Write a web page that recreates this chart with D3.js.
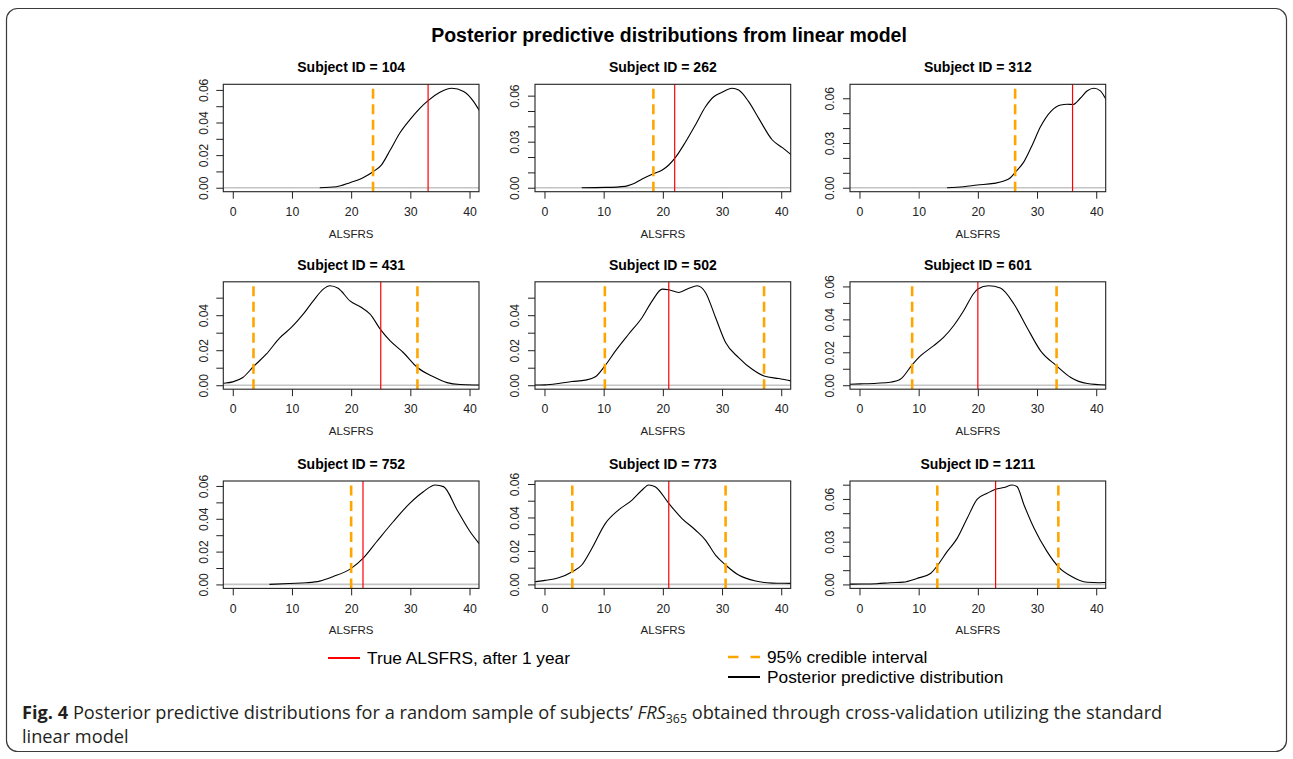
<!DOCTYPE html>
<html>
<head>
<meta charset="utf-8">
<script src="https://cdn.jsdelivr.net/npm/d3@7"></script>
<style>
  body { margin: 0; background: #fff; }
  svg { display: block; }
</style>
</head>
<body>
<svg id="fig" width="1293" height="759"></svg>
<script>
// ---- data -------------------------------------------------------------
// subjects in grid order (row by row)
const subjects = ["104", "262", "312", "431", "502", "601", "752", "773", "1211"];
// observed ALSFRS after one year (red line)
const trueALSFRS = [33, 22, 36, 25, 21, 20, 22, 21, 23];
// 95% credible interval bounds (orange dashed lines)
const ciLower = [23.7, 18.4, 26.3, 3.5, 10.2, 8.9, 20.0, 4.7, 13.15];
const ciUpper = [44.6, 44.0, 45.5, 31.2, 37.1, 33.3, 44.3, 30.6, 33.6];

// posterior predictive densities, [ALSFRS, density]
const density104 = [[14.7,0],[17.5,0.0006],[19.8,0.0031],[22.0,0.0061],[23.7,0.0098],[25.1,0.0139],[26.6,0.0231],[28.2,0.0334],[29.9,0.0416],[31.6,0.0487],[33.0,0.0534],[35.0,0.0586],[37.0,0.0610],[39.0,0.0590],[40.7,0.0528],[41.6,0.0477],[43.0,0.0400]];
const density262 = [[6.3,0],[10.3,0.0002],[13.65,0.0009],[14.8,0.0022],[16.5,0.0057],[18.4,0.0091],[19.9,0.0115],[21.0,0.0148],[22.1,0.0196],[23.8,0.0296],[25.5,0.0409],[27.2,0.0528],[28.6,0.0593],[30.0,0.0622],[31.7,0.0648],[32.8,0.0637],[34.5,0.0561],[36.2,0.0452],[38.5,0.0311],[40.2,0.0261],[41.6,0.0217],[43.0,0.0170]];
const density312 = [[14.8,0],[17.6,0.0007],[19.9,0.0018],[22.7,0.0029],[24.4,0.0045],[25.5,0.0067],[26.3,0.0103],[27.8,0.0175],[29.2,0.0287],[30.6,0.0410],[32.3,0.0511],[34.0,0.0555],[35.1,0.0560],[36.05,0.0558],[37.3,0.0600],[38.5,0.0650],[39.6,0.0667],[40.7,0.0650],[41.6,0.0596],[43.0,0.0500]];
const density431 = [[-2.5,0.0008],[-1.7,0.0011],[0,0.0019],[1.7,0.0044],[3.5,0.0107],[5.65,0.0177],[7.9,0.0269],[9.9,0.0330],[11.9,0.0406],[13.6,0.0482],[15.3,0.0549],[16.4,0.0568],[17.8,0.0554],[19.8,0.0482],[21.75,0.0444],[23.2,0.0406],[25.0,0.0316],[26.6,0.0253],[28.8,0.0187],[31.2,0.0101],[33.9,0.0048],[36.2,0.0015],[38.4,0.0004],[41.6,0.0001],[43.0,0]];
const density502 = [[-2.5,0],[-1.6,0.0001],[0.1,0.0002],[2.4,0.0010],[4.6,0.0021],[6.9,0.0029],[8.6,0.0048],[10.2,0.0110],[12.0,0.0196],[14.2,0.0291],[16.5,0.0387],[18.2,0.0482],[19.9,0.0549],[21.0,0.0545],[22.7,0.0530],[24.4,0.0554],[25.8,0.0568],[27.2,0.0530],[28.9,0.0387],[30.6,0.0244],[32.8,0.0158],[35.1,0.0091],[37.1,0.0053],[39.6,0.0038],[41.6,0.0025],[43.0,0.0017]];
const density601 = [[-2.5,0.0005],[-1.6,0.0006],[0.1,0.0008],[2.9,0.0012],[5.2,0.0018],[6.9,0.0036],[8.9,0.0124],[10.3,0.0178],[12.5,0.0239],[14.2,0.0290],[15.9,0.0361],[17.6,0.0452],[19.3,0.0557],[20.0,0.0584],[21.8,0.0604],[23.8,0.0590],[26.1,0.0493],[28.3,0.0351],[30.6,0.0209],[33.3,0.0118],[35.7,0.0047],[38.5,0.0010],[41.6,0.0001],[43.0,0]];
const density752 = [[6.2,0],[9.6,0.0006],[12.4,0.0010],[14.7,0.0020],[16.9,0.0047],[20.0,0.0098],[22.0,0.0159],[24.3,0.0260],[27.1,0.0382],[29.9,0.0494],[32.2,0.0565],[34.2,0.0606],[35.6,0.0596],[37.9,0.0454],[40.1,0.0321],[41.6,0.0250],[43.0,0.0190]];
const density773 = [[-2.5,0.0012],[-1.6,0.0016],[0.1,0.0024],[2.4,0.0040],[4.7,0.0076],[6.3,0.0116],[8.0,0.0215],[10.3,0.0365],[12.5,0.0444],[14.8,0.0504],[16.5,0.0564],[17.6,0.0594],[18.7,0.0584],[21.0,0.0484],[23.2,0.0395],[25.5,0.0325],[27.2,0.0265],[28.9,0.0175],[30.6,0.0116],[32.8,0.0056],[35.7,0.0020],[38.5,0.0008],[41.6,0.0006],[43.0,0.0005]];
const density1211 = [[-2.5,0.0001],[-1.6,0.0002],[2.9,0.0005],[5.2,0.0012],[7.4,0.0016],[9.7,0.0042],[12.0,0.0077],[13.1,0.0129],[14.8,0.0230],[16.5,0.0323],[18.2,0.0464],[19.9,0.0598],[21.6,0.0640],[23.0,0.0668],[24.4,0.0680],[25.8,0.0698],[26.6,0.0687],[27.8,0.0558],[29.5,0.0394],[31.7,0.0230],[33.6,0.0124],[35.7,0.0059],[38.5,0.0015],[40.5,0.0012],[41.6,0.0014],[43.0,0.0016]];
const densities = [density104, density262, density312, density431, density502, density601, density752, density773, density1211];

// axis limits and tick labels
const xLimits = [0, 40];
const xTicks = [0, 10, 20, 30, 40];
const yLabels = [
  ["0.00", "0.02", "0.04", "0.06"],
  ["0.00", "0.03", "0.06"],
  ["0.00", "0.03", "0.06"],
  ["0.00", "0.02", "0.04"],
  ["0.00", "0.02", "0.04"],
  ["0.00", "0.02", "0.04", "0.06"],
  ["0.00", "0.02", "0.04", "0.06"],
  ["0.00", "0.02", "0.04", "0.06"],
  ["0.00", "0.03", "0.06"]
];

// ---- layout -----------------------------------------------------------
const FONT = "'Liberation Sans', Arial, Helvetica, sans-serif";
const colLeft = [223.3, 535, 850];
const rowTop = [84.3, 281.8, 481];
const boxW = 255.7, boxH = 107.4;

const svg = d3.select("#fig");
svg.append("rect").attr("width", 1293).attr("height", 759).attr("fill", "#fff");

// rounded figure frame
svg.append("rect")
  .attr("x", 6.5).attr("y", 8.5).attr("width", 1280).attr("height", 743)
  .attr("rx", 11).attr("ry", 11)
  .attr("fill", "none").attr("stroke", "#3a3a3a").attr("stroke-width", 1.2);

// overall title
svg.append("text")
  .attr("x", 669).attr("y", 35).attr("dy", "0.35em")
  .attr("text-anchor", "middle")
  .style("font-family", FONT).style("font-weight", "bold").style("font-size", "19.5px")
  .attr("fill", "#000")
  .text("Posterior predictive distributions from linear model");

const defs = svg.append("defs");

subjects.forEach((id, i) => {
  const col = i % 3, row = Math.floor(i / 3);
  const g = svg.append("g").attr("transform", `translate(${colLeft[col]},${rowTop[row]})`);

  const data = densities[i];
  const yMax = d3.max(data, d => d[1]);
  const xPad = 0.04 * (xLimits[1] - xLimits[0]);
  const x = d3.scaleLinear().domain([xLimits[0] - xPad, xLimits[1] + xPad]).range([0, boxW]);
  const y = d3.scaleLinear().domain([-0.04 * yMax, 1.04 * yMax]).range([boxH, 0]);

  const clipId = "clip" + id;
  defs.append("clipPath").attr("id", clipId)
    .append("rect").attr("x", 0).attr("y", 0).attr("width", boxW).attr("height", boxH);

  const plot = g.append("g").attr("clip-path", `url(#${clipId})`);

  // zero reference line
  plot.append("line")
    .attr("x1", 0).attr("x2", boxW).attr("y1", y(0)).attr("y2", y(0))
    .attr("stroke", "#c4c4c4").attr("stroke-width", 1.6);

  // density curve
  plot.append("path")
    .datum(data)
    .attr("fill", "none").attr("stroke", "#000").attr("stroke-width", 1.1)
    .attr("d", d3.line().x(d => x(d[0])).y(d => y(d[1])).curve(d3.curveMonotoneX));

  // credible interval bounds
  [ciLower[i], ciUpper[i]].forEach(v => {
    plot.append("line")
      .attr("x1", x(v)).attr("x2", x(v)).attr("y1", boxH).attr("y2", 0)
      .attr("stroke", "#FFA500").attr("stroke-width", 2.6)
      .attr("stroke-dasharray", "10,5.5");
  });

  // observed value
  plot.append("line")
    .attr("x1", x(trueALSFRS[i])).attr("x2", x(trueALSFRS[i])).attr("y1", boxH).attr("y2", 0)
    .attr("stroke", "#ff0000").attr("stroke-width", 1.2);

  // x axis
  const xAxis = g.append("g").attr("transform", `translate(0,${boxH})`)
    .call(d3.axisBottom(x).tickValues(xTicks).tickSize(7).tickSizeOuter(0).tickFormat(d3.format("d")));
  xAxis.select(".domain").remove();
  xAxis.selectAll(".tick line").attr("stroke", "#222").attr("stroke-width", 1);
  xAxis.selectAll(".tick text")
    .attr("y", 20).attr("dy", "0.35em")
    .attr("fill", "#222")
    .style("font-family", FONT).style("font-size", "12.3px");

  // y axis
  const yTickVals = d3.range(0, y.domain()[1] + 1e-9, 0.01);
  const fmt = d3.format(".2f");
  const yAxis = g.append("g")
    .call(d3.axisLeft(y).tickValues(yTickVals).tickSize(7).tickSizeOuter(0)
      .tickFormat(v => yLabels[i].includes(fmt(v)) ? fmt(v) : ""));
  yAxis.select(".domain").remove();
  yAxis.selectAll(".tick line").attr("stroke", "#222").attr("stroke-width", 1);
  yAxis.selectAll(".tick text")
    .attr("transform", "rotate(-90)")
    .attr("x", 0).attr("y", -20).attr("dy", "0.35em")
    .attr("text-anchor", "middle")
    .attr("fill", "#222")
    .style("font-family", FONT).style("font-size", "12px");

  // plot box
  g.append("rect")
    .attr("x", 0).attr("y", 0).attr("width", boxW).attr("height", boxH)
    .attr("fill", "none").attr("stroke", "#222").attr("stroke-width", 1.1);

  // panel title
  g.append("text")
    .attr("x", boxW / 2).attr("y", -17).attr("dy", "0.35em")
    .attr("text-anchor", "middle")
    .style("font-family", FONT).style("font-weight", "bold").style("font-size", "14px")
    .attr("fill", "#000")
    .text("Subject ID = " + id);

  // x axis title
  g.append("text")
    .attr("x", boxW / 2).attr("y", boxH + 42).attr("dy", "0.35em")
    .attr("text-anchor", "middle")
    .style("font-family", FONT).style("font-size", "11.5px")
    .attr("fill", "#222")
    .text("ALSFRS");
});

// ---- legend -----------------------------------------------------------
const legendItems = [
  { label: "True ALSFRS, after 1 year", color: "#ff0000", dash: null, width: 2, x: 328, y: 658 },
  { label: "95% credible interval", color: "#FFA500", dash: "10.5,12", width: 2.6, x: 728, y: 657 },
  { label: "Posterior predictive distribution", color: "#000", dash: null, width: 2, x: 728, y: 677 }
];
const legend = svg.append("g");
legendItems.forEach(it => {
  legend.append("line")
    .attr("x1", it.x).attr("x2", it.x + 32).attr("y1", it.y).attr("y2", it.y)
    .attr("stroke", it.color).attr("stroke-width", it.width)
    .attr("stroke-dasharray", it.dash);
  legend.append("text")
    .attr("x", it.x + 39).attr("y", it.y).attr("dy", "0.35em")
    .style("font-family", FONT).style("font-size", "17.3px")
    .attr("fill", "#000")
    .text(it.label);
});

// ---- caption ----------------------------------------------------------
// set in a narrowed sans: full-size glyphs squeezed horizontally to the line width
const CAP_FONT = "'Open Sans', 'Noto Sans', sans-serif";
const CAP_SIZE = 18;
const capLeft = 22, capWidth = 1141;
const capGroup = svg.append("g");
const cap1 = capGroup.append("text")
  .attr("x", 0).attr("y", 0)
  .style("font-family", CAP_FONT).style("font-size", CAP_SIZE + "px")
  .attr("fill", "#231f20");
cap1.append("tspan").style("font-weight", "bold").text("Fig. 4");
cap1.append("tspan").text(" Posterior predictive distributions for a random sample of subjects’ ");
cap1.append("tspan").style("font-style", "italic").text("FRS");
cap1.append("tspan").attr("dy", 4).style("font-size", (CAP_SIZE * 0.68) + "px").text("365");
cap1.append("tspan").attr("dy", -4).text(" obtained through cross-validation utilizing the standard");

const cap2 = capGroup.append("text")
  .attr("x", 0).attr("y", 24)
  .style("font-family", CAP_FONT).style("font-size", CAP_SIZE + "px")
  .attr("fill", "#231f20")
  .text("linear model");

const sx = capWidth / cap1.node().getComputedTextLength();
capGroup.attr("transform", `translate(${capLeft},719) scale(${sx},1)`);
</script>
</body>
</html>
